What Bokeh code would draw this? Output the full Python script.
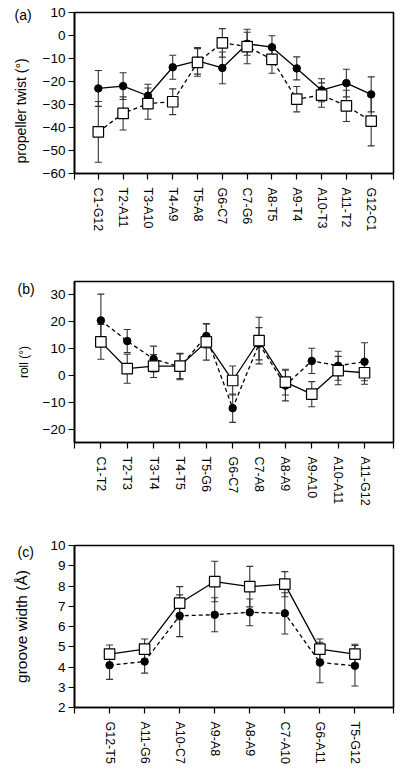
from bokeh.plotting import figure
from bokeh.layouts import column
from bokeh.models import ColumnDataSource, Whisker, TeeHead, FixedTicker, Title
from bokeh.embed import file_html
from bokeh.resources import INLINE

FONT = "Liberation Sans"

# ---- (a) propeller twist ----
pt_labels = ["C1-G12", "T2-A11", "T3-A10", "T4-A9", "T5-A8", "G6-C7",
             "C7-G6", "A8-T5", "A9-T4", "A10-T3", "A11-T2", "G12-C1"]
pt_circle = [-23.0, -22.0, -26.2, -13.8, -11.0, -14.1, -3.6, -5.1, -14.3, -23.8, -20.7, -25.6]
pt_circle_sd = [7.8, 5.8, 5.0, 5.2, 5.8, 6.9, 5.0, 5.0, 5.0, 5.0, 6.0, 7.6]
pt_square = [-41.9, -33.9, -29.6, -28.8, -11.7, -3.2, -4.8, -10.4, -27.7, -25.9, -30.6, -37.2]
pt_square_sd = [13.2, 7.2, 6.8, 5.6, 6.0, 6.2, 7.5, 6.0, 5.5, 5.3, 6.8, 10.8]
pt_yticks = [10, 0, -10, -20, -30, -40, -50, -60]

# ---- (b) roll ----
roll_labels = ["C1-T2", "T2-T3", "T3-T4", "T4-T5", "T5-G6", "G6-C7",
               "C7-A8", "A8-A9", "A9-A10", "A10-A11", "A11-G12"]
roll_circle = [20.5, 12.8, 6.1, 3.2, 14.7, -12.2, 11.8, -3.8, 5.4, 3.6, 5.1]
roll_circle_sd = [9.8, 4.3, 4.8, 4.8, 4.5, 5.3, 6.0, 5.7, 4.7, 5.4, 7.1]
roll_square = [12.5, 2.5, 3.5, 3.5, 12.5, -1.9, 13.0, -2.5, -7.0, 1.8, 1.0]
roll_square_sd = [6.5, 5.4, 4.3, 4.7, 6.8, 5.4, 8.7, 4.8, 4.7, 5.3, 4.3]
roll_yticks = [30, 20, 10, 0, -10, -20]

# ---- (c) groove width ----
gw_labels = ["G12-T5", "A11-G6", "A10-C7", "A9-A8", "A8-A9", "C7-A10", "G6-A11", "T5-G12"]
gw_circle = [4.09, 4.27, 6.53, 6.58, 6.70, 6.65, 4.22, 4.06]
gw_circle_sd = [0.70, 0.57, 1.03, 0.84, 0.66, 1.02, 1.00, 1.00]
gw_square = [4.64, 4.88, 7.15, 8.22, 7.97, 8.09, 4.88, 4.64]
gw_square_sd = [0.45, 0.50, 0.82, 1.00, 1.00, 0.62, 0.50, 0.48]
gw_yticks = [2, 3, 4, 5, 6, 7, 8, 9, 10]


def errbar(p, xs, vals, sds):
    src = ColumnDataSource(dict(x=xs,
                                lo=[v - s for v, s in zip(vals, sds)],
                                hi=[v + s for v, s in zip(vals, sds)]))
    w = Whisker(base="x", upper="hi", lower="lo", source=src,
                line_color="#333333", line_width=1.1,
                upper_head=TeeHead(size=7, line_color="#333333", line_width=1.1),
                lower_head=TeeHead(size=7, line_color="#333333", line_width=1.1),
                level="underlay")
    p.add_layout(w)


def panel(labels, circ, circ_sd, sq, sq_sd, yticks, ylab, tag, xr, yr,
          height, borders, tag_offset, tag_standoff, solid_is_circle,
          ylab_size, ylab_standoff, ylab_as_title=None):
    n = len(labels)
    xs = list(range(1, n + 1))
    bl, br, bt, bb = borders
    p = figure(width=400, height=height, x_range=xr, y_range=yr,
               output_backend="svg", toolbar_location=None,
               min_border_left=bl, min_border_right=br,
               min_border_top=bt, min_border_bottom=bb,
               background_fill_color="white", border_fill_color="white")
    p.title.visible = False
    p.xgrid.visible = False
    p.ygrid.visible = False
    p.outline_line_color = "black"
    p.outline_line_width = 1.6

    # category ticks plus end ticks at the frame corners
    p.xaxis.ticker = FixedTicker(ticks=[xr[0]] + xs + [xr[1]])
    overrides = {i + 1: lab for i, lab in enumerate(labels)}
    overrides[xr[0]] = ""
    overrides[xr[1]] = ""
    p.xaxis.major_label_overrides = overrides
    p.xaxis.major_label_orientation = "vertical"
    p.xaxis.major_label_standoff = 8
    p.yaxis.ticker = FixedTicker(ticks=yticks)
    p.yaxis.major_label_standoff = 3
    for ax in (p.xaxis, p.yaxis):
        ax.axis_line_color = "black"
        ax.axis_line_width = 1.6
        ax.major_tick_in = 0
        ax.major_tick_out = 6
        ax.major_tick_line_color = "black"
        ax.major_tick_line_width = 1.2
        ax.minor_tick_line_color = None
        ax.major_label_text_font = FONT
        ax.major_label_text_color = "black"
        ax.axis_label_text_font = FONT
        ax.axis_label_text_font_size = ylab_size
        ax.axis_label_text_font_style = "normal"
        ax.axis_label_text_color = "black"
    p.xaxis.major_label_text_font_size = "12.5px"
    p.yaxis.major_label_text_font_size = "13.5px"

    if ylab_as_title is None:
        p.yaxis.axis_label = ylab
        p.yaxis.axis_label_standoff = ylab_standoff
    else:
        p.add_layout(Title(text=ylab, align="left", vertical_align="bottom",
                           offset=ylab_as_title, standoff=ylab_standoff,
                           text_font=FONT, text_font_size=ylab_size,
                           text_font_style="normal", text_color="black"), "left")

    errbar(p, xs, circ, circ_sd)
    errbar(p, xs, sq, sq_sd)

    dashed = "4 3"
    p.line(xs, circ, line_color="black", line_width=1.3,
           line_dash="solid" if solid_is_circle else dashed)
    p.line(xs, sq, line_color="black", line_width=1.3,
           line_dash=dashed if solid_is_circle else "solid")
    p.scatter(xs, circ, marker="circle", size=7.5, fill_color="black", line_color="black")
    p.scatter(xs, sq, marker="square", size=10.5, fill_color="white",
              line_color="black", line_width=1.2)

    p.add_layout(Title(text=tag, align="left", vertical_align="bottom",
                       offset=tag_offset, standoff=tag_standoff,
                       text_font=FONT, text_font_size="14px",
                       text_font_style="normal", text_color="black"), "above")
    return p


pa = panel(pt_labels, pt_circle, pt_circle_sd, pt_square, pt_square_sd, pt_yticks,
           "propeller twist (°)", "(a)", (0.04, 12.9), (-60, 10),
           258, (72, 7, 12, 85), -60, -20, True, "14px", 21, ylab_as_title=10)
pb = panel(roll_labels, roll_circle, roll_circle_sd, roll_square, roll_square_sd, roll_yticks,
           "roll (°)", "(b)", (0.0, 12.1), (-25, 35),
           257, (70, 4, 23, 73), -57, -30, False, "12px", 9)
pc = panel(gw_labels, gw_circle, gw_circle_sd, gw_square, gw_square_sd, gw_yticks,
           "groove width (Å)", "(c)", (0.0, 9.1), (2, 10),
           258, (69, 3, 30, 66), -57, -28, False, "15.5px", 17)

layout = column(pa, pb, pc, spacing=0)
open("out.html", "w").write(file_html(layout, INLINE))
